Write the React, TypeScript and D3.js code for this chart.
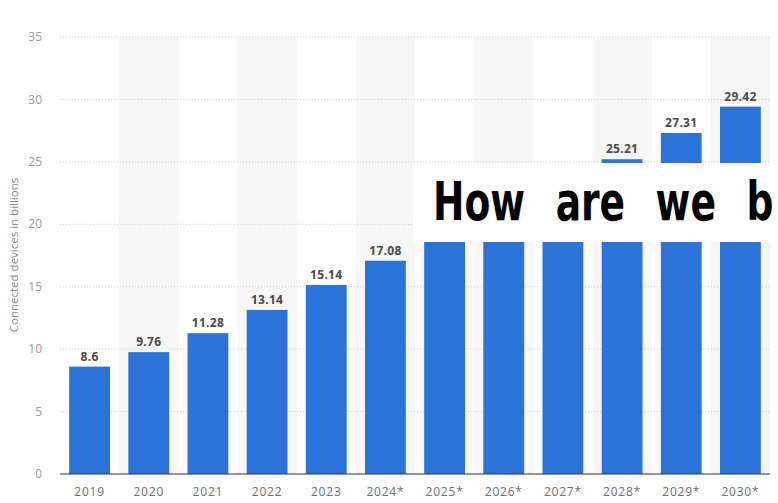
import React from "react";
import * as d3 from "d3";

const categories = ["2019", "2020", "2021", "2022", "2023", "2024*", "2025*", "2026*", "2027*", "2028*", "2029*", "2030*"];
const values = [8.6, 9.76, 11.28, 13.14, 15.14, 17.08, 19.08, 21.09, 23.14, 25.21, 27.31, 29.42];
const yTicks = [0, 5, 10, 15, 20, 25, 30, 35];
const overlayText = "How are we b";

const W = 778;
const H = 503;

export default function App() {
  const x = d3.scaleBand<string>().domain(categories).range([60, 770]).paddingInner(0.31).paddingOuter(0.155);
  const band = d3.scaleBand<string>().domain(categories).range([60, 770]).padding(0);
  const y = d3.scaleLinear().domain([0, 35]).range([474, 37]);
  const font = "'Open Sans', 'DejaVu Sans', sans-serif";
  const box = { x: 413, y: 163, w: W - 413, h: 79 };
  const hidden = (i: number) => {
    const cx = (x(categories[i]) as number) + x.bandwidth() / 2;
    const ly = y(values[i]) - 10;
    return cx > box.x && ly > box.y && ly < box.y + box.h;
  };
  return (
    <div style={{ position: "fixed", left: 0, top: 0, width: W, height: H, background: "#fff" }}>
      <svg width={W} height={H} style={{ display: "block" }}>
        <rect x={0} y={0} width={W} height={H} fill="#fff" />
        {categories.map((c, i) =>
          i % 2 === 1 ? (
            <rect key={"b" + c} x={band(c)} y={y(35)} width={band.bandwidth()} height={y(0) - y(35)} fill="#f7f7f7" />
          ) : null
        )}
        {yTicks.filter((t) => t > 0).map((t) => (
          <line key={"g" + t} x1={60} x2={770} y1={y(t)} y2={y(t)} stroke="#cfcfcf" strokeWidth={1} strokeDasharray="1,2" />
        ))}
        {yTicks.map((t) => (
          <text key={"t" + t} x={42} y={y(t)} dy="0.35em" textAnchor="end" fontFamily={font} fontSize={12} fill="#9a9a9a">
            {t}
          </text>
        ))}
        <text
          transform={`translate(18,255) rotate(-90)`}
          textAnchor="middle"
          fontFamily={font}
          fontSize={11.5}
          fill="#8a8a8a"
        >
          Connected devices in billions
        </text>
        {categories.map((c, i) => (
          <rect key={"r" + c} x={x(c)} y={y(values[i])} width={x.bandwidth()} height={y(0) - y(values[i])} fill="#2b73d9" />
        ))}
        {categories.map((c, i) =>
          hidden(i) ? null : (
            <text
              key={"v" + c}
              x={(x(c) as number) + x.bandwidth() / 2}
              y={y(values[i]) - 6}
              textAnchor="middle"
              fontFamily={font}
              fontSize={12}
              fontWeight="bold"
              fill="#4a4a4a"
              letterSpacing={0.3}
            >
              {values[i]}
            </text>
          )
        )}
        <line x1={60} x2={770} y1={y(0)} y2={y(0)} stroke="#333" strokeWidth={1.2} />
        {categories.map((c) => (
          <text
            key={"x" + c}
            x={(x(c) as number) + x.bandwidth() / 2}
            y={496}
            textAnchor="middle"
            fontFamily={font}
            fontSize={12}
            letterSpacing={0.8}
            fill="#6e6e6e"
          >
            {c}
          </text>
        ))}
        <rect x={box.x} y={box.y} width={box.w} height={box.h} fill="#fff" />
        <text
          transform="translate(433,220) scale(0.697,1)"
          fontFamily="'DejaVu Sans', sans-serif"
          fontWeight="bold"
          fontSize={54}
          wordSpacing={25}
          fill="#000"
        >
          {overlayText}
        </text>
      </svg>
    </div>
  );
}
